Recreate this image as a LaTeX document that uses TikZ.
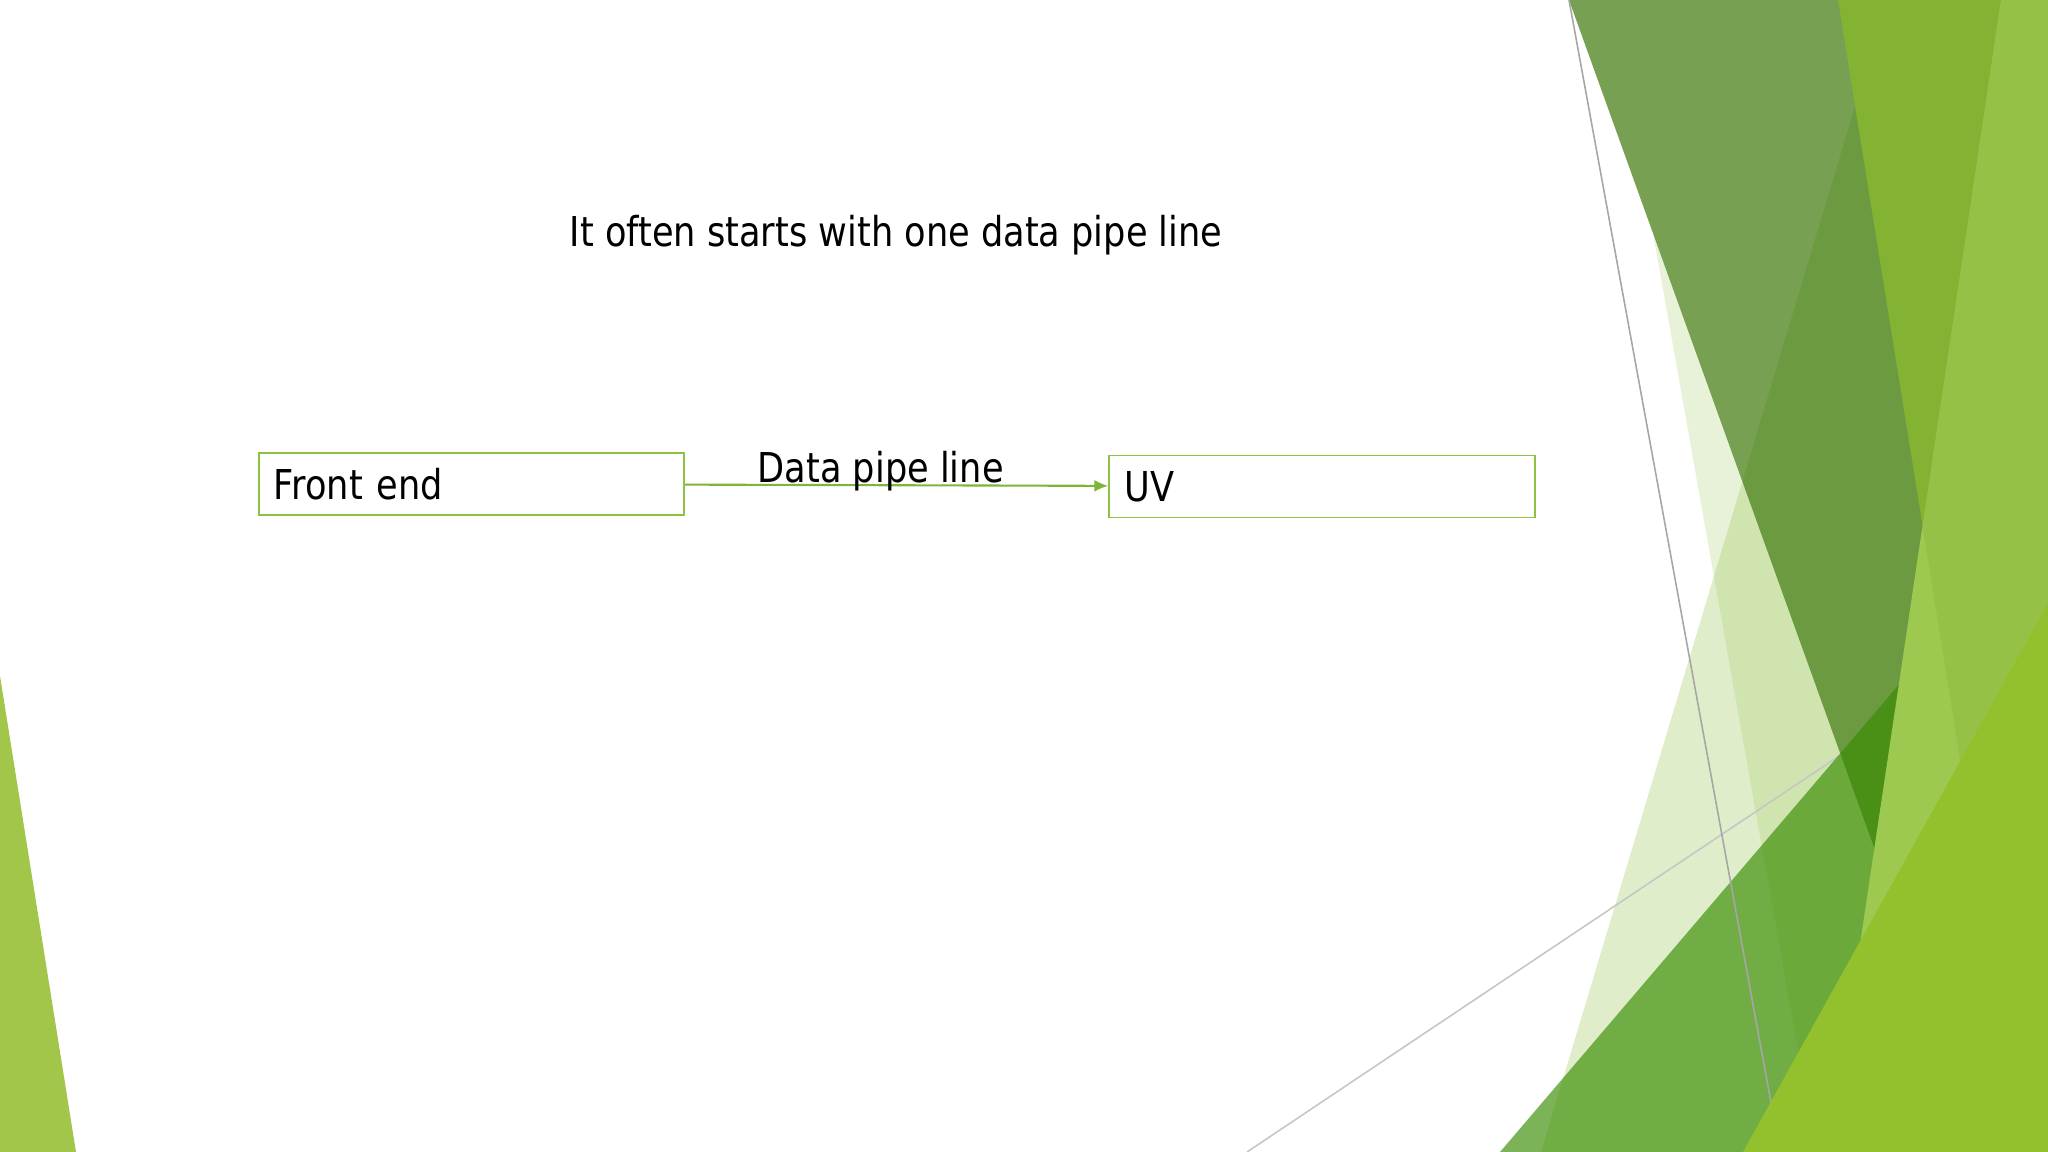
\documentclass[tikz,border=0pt]{standalone}
\usepackage{fontspec}
\setmainfont{DejaVu Sans}[FakeStretch=0.855]
\usetikzlibrary{arrows.meta, positioning}
\definecolor{boxgreen}{HTML}{8DC340}
\definecolor{linegreen}{HTML}{7FB438}
\definecolor{facetpale}{HTML}{8CBE3C}
\definecolor{facetolive}{HTML}{367300}
\definecolor{facetmid}{HTML}{388B00}
\definecolor{facetbright}{HTML}{84B232}
\definecolor{facetlight}{HTML}{9DC950}
\definecolor{facetlime}{HTML}{93C12E}
\definecolor{facetleft}{HTML}{A1C64A}
\tikzstyle{arrow} = [line width=0.6pt, draw=linegreen, -{Latex[length=4pt,width=3.4pt]}]
\tikzstyle{databox} = [rectangle, draw=boxgreen, line width=0.55pt, minimum height=0.62cm, inner xsep=0.15cm, text width=3.95cm, align=left]

\begin{document}
\begin{tikzpicture}[x=0.01cm, y=-0.01cm, font=\fontsize{11.7}{14}\selectfont]
\useasboundingbox (0,0) rectangle (2048,1152);

% Background facets
\fill[facetleft] (0,676) -- (76,1152) -- (0,1152) -- cycle;
\fill[facetpale, opacity=0.27] (1887,0) -- (2048,0) -- (2048,1152) -- (1541,1152) -- cycle;
\fill[facetpale, opacity=0.2] (1653,233) -- (1984,1152) -- (1816,1152) -- cycle;
\draw[gray!45, line width=0.45pt] (1247,1152) -- (1839,756);
\fill[facetolive, opacity=0.68] (1569,0) -- (2001,0) -- (1875,850) -- cycle;
\fill[facetmid, opacity=0.655] (1500,1152) -- (2048,510) -- (2048,1152) -- cycle;
\draw[gray!70, line width=0.45pt] (1569,0) -- (1780,1152);
\fill[facetbright] (1838,0) -- (2001,0) -- (1923,528) -- cycle;
\fill[facetlight] (2001,0) -- (2048,0) -- (2048,1152) -- (1829,1152) -- cycle;
\fill[facetbright, opacity=0.3] (1838,0) -- (2048,0) -- (2048,1152) -- (2023,1152) -- cycle;
\fill[facetlime] (2048,603) -- (1743,1152) -- (2048,1152) -- cycle;

% Placement of nodes
\node (title) at (896,247) [anchor=base] {It often starts with one data pipe line};
\node (front) at (471.5,484) [databox] {Front end};
\node (uv) [databox, right=4.23cm of front, yshift=-0.025cm] {UV};

% Placement of edges
\draw [arrow] (front) -- node[anchor=base, inner sep=0pt, xshift=-0.16cm, yshift=0.03cm] {Data pipe line} (uv);

\end{tikzpicture}
\end{document}
